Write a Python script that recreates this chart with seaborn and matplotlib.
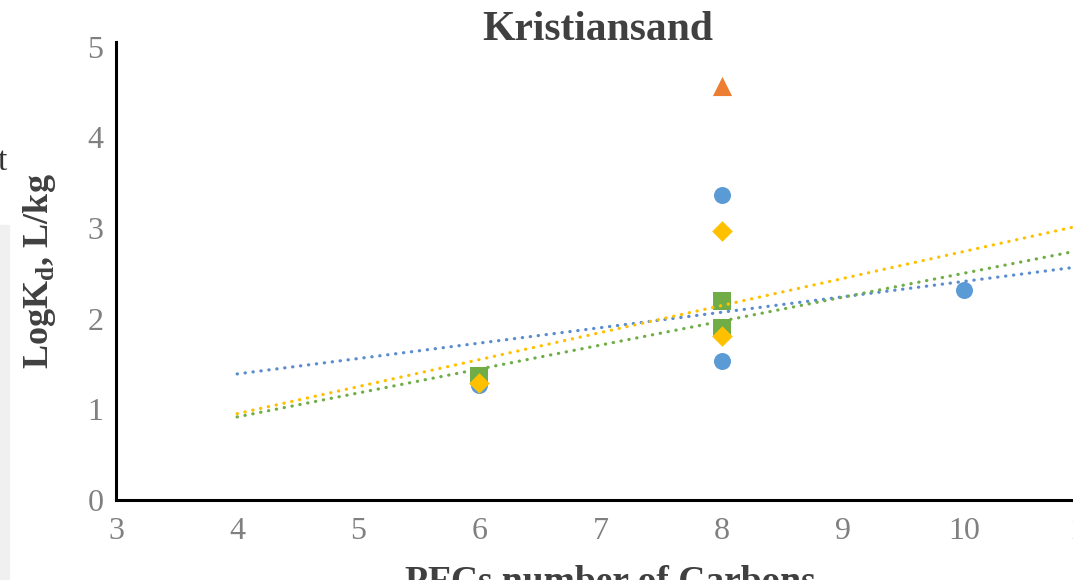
import numpy as np
import pandas as pd
import matplotlib
matplotlib.use("Agg")
import matplotlib.pyplot as plt
import seaborn as sns

# data
series_names = ["Blue", "Orange", "Green", "Yellow"]
blue_x = [6, 8, 8, 10]
blue_y = [1.27, 3.36, 1.53, 2.32]
orange_x = [8]
orange_y = [4.57]
green_x = [6, 8, 8]
green_y = [1.37, 2.19, 1.90]
yellow_x = [6, 8, 8]
yellow_y = [1.29, 2.97, 1.81]

# linear trendlines (slope, intercept) for blue, yellow, green
trend_names = ["Blue", "Yellow", "Green"]
trend_slope = [0.170, 0.298, 0.264]
trend_intercept = [0.71, -0.24, -0.14]
trend_start = 4
trend_end = 12

x_ticks = [3, 4, 5, 6, 7, 8, 9, 10, 11, 12]
y_ticks = [0, 1, 2, 3, 4, 5]

colors = {"Blue": "#5B9BD5", "Orange": "#ED7D31",
          "Green": "#70AD47", "Yellow": "#FFC000"}
trend_colors = {"Blue": "#5a8ccf", "Yellow": "#FFC000", "Green": "#70AD47"}
markers = {"Blue": "o", "Orange": "^", "Green": "s", "Yellow": "D"}

df = pd.concat([
    pd.DataFrame({"series": "Blue", "x": blue_x, "y": blue_y}),
    pd.DataFrame({"series": "Orange", "x": orange_x, "y": orange_y}),
    pd.DataFrame({"series": "Green", "x": green_x, "y": green_y}),
    pd.DataFrame({"series": "Yellow", "x": yellow_x, "y": yellow_y}),
], ignore_index=True)

sns.set_style("white")
plt.rcParams["font.family"] = ["Liberation Serif", "DejaVu Serif"]

fig = plt.figure(figsize=(10.73, 5.8), dpi=100)
fig.patches.append(plt.Rectangle((0, 0), 9 / 1073, 355 / 580,
                                 transform=fig.transFigure,
                                 color="#f0f0f0", zorder=0))
# bit of neighbouring text cut by the crop
fig.text(-2 / 1073, 410 / 580, "t", ha="left", va="baseline",
         fontsize=24, color="#333333")

ax = fig.add_axes([116 / 1073, 80 / 580, 1090 / 1073, 458 / 580])
ax.set_facecolor("none")

for name in series_names:
    sub = df[df["series"] == name]
    size = 190 if name == "Orange" else 150
    if name == "Yellow":
        size = 110
    sns.scatterplot(data=sub, x="x", y="y", ax=ax, color=colors[name],
                    marker=markers[name], s=size, linewidth=0, zorder=3,
                    legend=False)

xs = np.array([trend_start, trend_end])
for name, m, b in zip(trend_names, trend_slope, trend_intercept):
    ax.plot(xs, m * xs + b, color=trend_colors[name], lw=2.3,
            linestyle=(0, (0.1, 2.4)), dash_capstyle="round", zorder=4)

ax.set_xlim(3, 12)
ax.set_ylim(0, 5.05)
ax.set_xticks(x_ticks)
ax.set_yticks(y_ticks)
ax.tick_params(axis="both", length=0, labelsize=23, colors="#808080")
ax.tick_params(axis="x", pad=12)
ax.tick_params(axis="y", pad=9)
ax.set_xlabel("")
ax.set_ylabel(r"LogK$_\mathregular{d}$, L/kg", fontsize=26,
              fontweight="bold", color="#404040", labelpad=21)
for side in ["top", "right"]:
    ax.spines[side].set_visible(False)
for side in ["left", "bottom"]:
    ax.spines[side].set_color("black")
    ax.spines[side].set_linewidth(2.2)

fig.text(598 / 1073, 540 / 580, "Kristiansand", ha="center", va="baseline",
         fontsize=30, fontweight="bold", color="#404040")
fig.text(610 / 1073, -12 / 580, "PFCs number of Carbons", ha="center",
         va="baseline", fontsize=27, fontweight="bold", color="#404040")

fig.savefig("out.png", dpi=100)
